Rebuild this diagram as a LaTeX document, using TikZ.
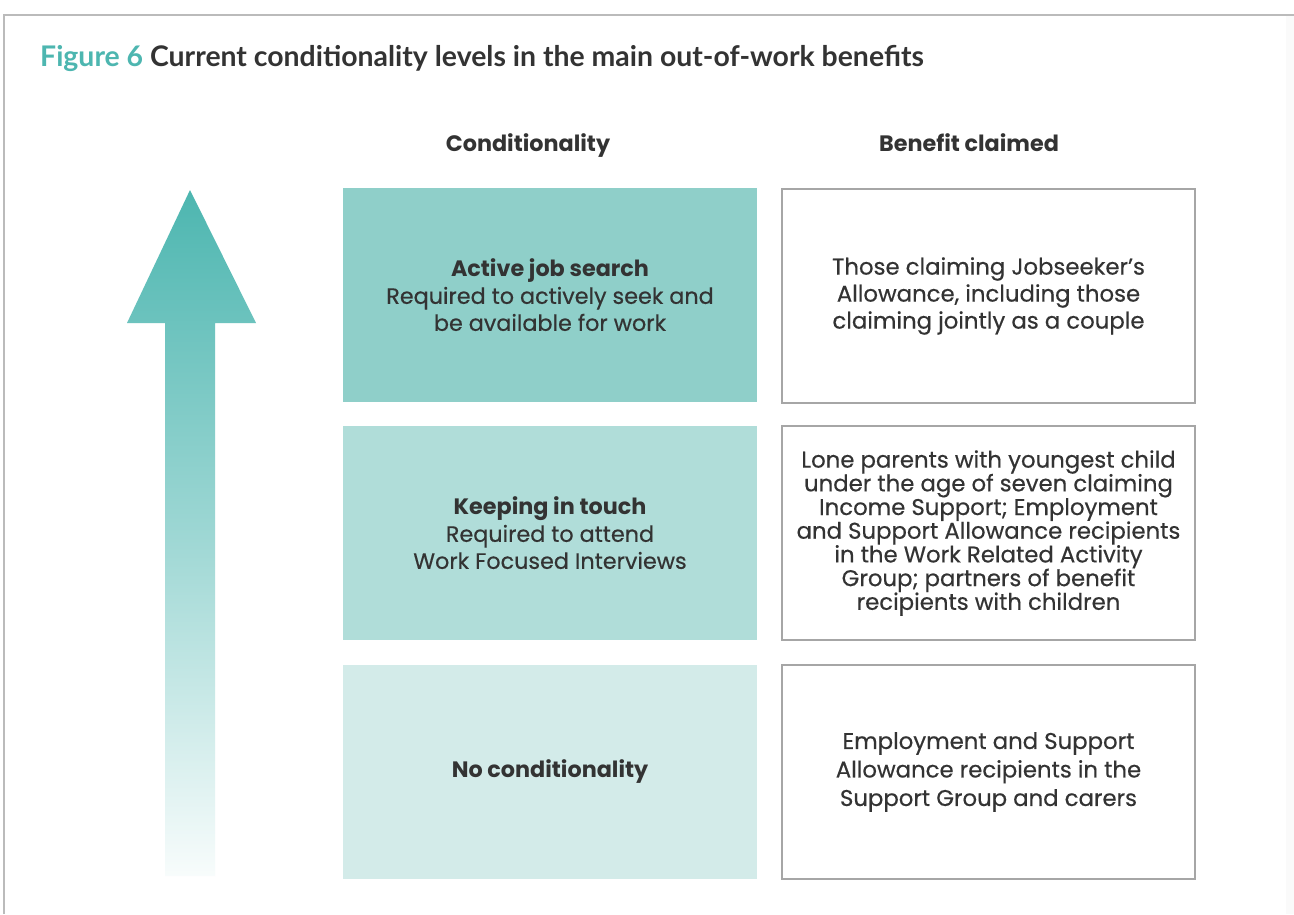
\documentclass[tikz,border=0pt]{standalone}
\usepackage{fontspec}
\setmainfont{Poppins}
\newfontfamily\bodyfont{Poppins}[FakeBold=0.4]
\newfontfamily\titlefont{Lato}
\definecolor{teal1}{HTML}{4DB6B0}
\definecolor{box1}{HTML}{8FCFC9}
\definecolor{box2}{HTML}{B0DDD9}
\definecolor{box3}{HTML}{D3EBE9}
\definecolor{txt}{HTML}{333333}
\definecolor{frame}{HTML}{BBBBBB}
\begin{document}
\begin{tikzpicture}[x=1pt,y=-1pt,
  lbox/.style={minimum width=414pt,minimum height=214pt,inner sep=0pt,align=center,text=txt,font=\bodyfont\fontsize{22.3}{27}\selectfont},
  rbox/.style={draw=gray!70,line width=1.2pt,minimum width=413pt,minimum height=214pt,inner sep=0pt,align=center,text=txt},
  head/.style={font=\fontsize{22.3}{25}\selectfont\bfseries,text=txt}]
\useasboundingbox (0,0) rectangle (1294,914);
\fill[white] (0,0) rectangle (1294,914);
\fill[gray!4] (1286,15) rectangle (1294,914);
\draw[frame,line width=1.5pt] (4,914) -- (4,15) -- (1294,15);
% title
\node[anchor=base west,inner sep=0pt,font=\titlefont\fontsize{28.4}{32}\selectfont\bfseries,text=txt] (title) at (40,66) {\textcolor{teal1}{Figure 6} Current conditionality levels in the main out-of-work benefits};
% headers
\node[head,anchor=base] (h1) at (528,151) {Conditionality};
\node[head,anchor=base] (h2) at (969,151) {Benefit claimed};
% arrow
\shade[top color=teal1,bottom color=teal1!4,middle color=teal1!55,shading angle=0]
  (190,190) -- (256,323) -- (215,323) -- (215,876) -- (165,876) -- (165,323) -- (127,323) -- cycle;
% left boxes
\node[lbox,fill=box1] (c1) at (550,295) {{\normalfont\bfseries Active job search}\\Required to actively seek and\\be available for work};
\node[lbox,fill=box2] (c2) at (550,533) {{\normalfont\bfseries Keeping in touch}\\Required to attend\\Work Focused Interviews};
\node[lbox,fill=box3] (c3) at (550,772) {{\normalfont\bfseries No conditionality}};
% right boxes
\node[rbox,font=\bodyfont\fontsize{22.8}{27}\selectfont] (b1) at (988.5,296) {Those claiming Jobseeker’s\\Allowance, including those\\claiming jointly as a couple};
\node[rbox,font=\bodyfont\fontsize{22.8}{23.7}\selectfont] (b2) at (988.5,533) {Lone parents with youngest child\\under the age of seven claiming\\Income Support; Employment\\and Support Allowance recipients\\in the Work Related Activity\\Group; partners of benefit\\recipients with children};
\node[rbox,font=\bodyfont\fontsize{22.8}{28.5}\selectfont] (b3) at (988.5,772) {Employment and Support\\Allowance recipients in the\\Support Group and carers};
\end{tikzpicture}
\end{document}
